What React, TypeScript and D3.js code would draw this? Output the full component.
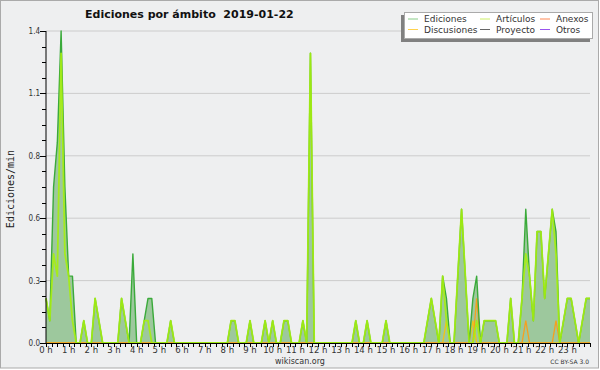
import React from "react";
import * as d3 from "d3";

// 10-minute bins, 00:00 .. 24:00 (145 points)
const ediciones = [
  0.2, 0.1, 0.7, 0.9, 1.4, 0.7,
  0.3, 0.3, 0, 0, 0.1, 0,
  0, 0.2, 0.1, 0, 0, 0,
  0, 0, 0.2, 0.1, 0, 0.4,
  0, 0, 0.1, 0.2, 0.2, 0,
  0, 0, 0, 0.1, 0, 0,
  0, 0, 0, 0, 0, 0,
  0, 0, 0, 0, 0, 0,
  0, 0.1, 0.1, 0, 0, 0,
  0.1, 0, 0, 0, 0.1, 0,
  0.1, 0, 0, 0.1, 0.1, 0,
  0, 0, 0.1, 0, 1.3, 0,
  0, 0, 0, 0, 0, 0,
  0, 0, 0, 0, 0.1, 0,
  0, 0.1, 0, 0, 0, 0,
  0.1, 0, 0, 0, 0, 0,
  0, 0, 0, 0, 0, 0.1,
  0.2, 0.1, 0, 0.3, 0.2, 0,
  0, 0.3, 0.6, 0.3, 0, 0.2,
  0.3, 0, 0.1, 0.1, 0.1, 0.1,
  0, 0, 0, 0.2, 0, 0,
  0.2, 0.6, 0.3, 0.1, 0.5, 0.5,
  0.2, 0.4, 0.6, 0.5, 0, 0.1,
  0.2, 0.2, 0.1, 0, 0.1, 0.2,
  0.2,
];

const articulos = [
  0.2, 0.1, 0.4, 0.3, 1.3, 0.4,
  0.3, 0.1, 0, 0, 0.1, 0,
  0, 0.2, 0.1, 0, 0, 0,
  0, 0, 0.2, 0.1, 0, 0,
  0, 0, 0.1, 0.1, 0, 0,
  0, 0, 0, 0.1, 0, 0,
  0, 0, 0, 0, 0, 0,
  0, 0, 0, 0, 0, 0,
  0, 0.1, 0.1, 0, 0, 0,
  0.1, 0, 0, 0, 0.1, 0,
  0.1, 0, 0, 0.1, 0.1, 0,
  0, 0, 0.1, 0, 1.3, 0,
  0, 0, 0, 0, 0, 0,
  0, 0, 0, 0, 0.1, 0,
  0, 0.1, 0, 0, 0, 0,
  0.1, 0, 0, 0, 0, 0,
  0, 0, 0, 0, 0, 0.1,
  0.2, 0.1, 0, 0.3, 0.1, 0,
  0, 0.3, 0.6, 0.3, 0, 0,
  0.1, 0, 0.1, 0.1, 0.1, 0.1,
  0, 0, 0, 0.2, 0, 0,
  0.2, 0.4, 0.3, 0.1, 0.5, 0.5,
  0.2, 0.4, 0.6, 0.4, 0, 0.1,
  0.2, 0.2, 0.1, 0, 0.1, 0.2,
  0.2,
];

const discusiones = [
  0, 0, 0, 0, 0, 0,  0, 0, 0, 0, 0, 0,  0, 0, 0, 0, 0, 0,  0, 0, 0, 0, 0, 0,
  0, 0, 0, 0, 0, 0,  0, 0, 0, 0, 0, 0,  0, 0, 0, 0, 0, 0,  0, 0, 0, 0, 0, 0,
  0, 0, 0, 0, 0, 0,  0, 0, 0, 0, 0, 0,  0, 0, 0, 0, 0, 0,  0, 0, 0, 0, 0, 0,
  0, 0, 0, 0, 0, 0,  0, 0, 0, 0, 0, 0,  0, 0, 0, 0, 0, 0,  0, 0, 0, 0, 0, 0,
  0, 0, 0, 0, 0, 0,  0, 0, 0, 0, 0.1, 0,  0, 0, 0, 0, 0, 0.1,  0, 0, 0, 0, 0, 0,
  0, 0, 0, 0, 0, 0,  0, 0, 0, 0, 0, 0,  0, 0, 0, 0, 0, 0,  0, 0, 0, 0, 0, 0,
  0,
];

const anexos = [
  0, 0, 0, 0, 0, 0,  0, 0, 0, 0, 0, 0,  0, 0, 0, 0, 0, 0,  0, 0, 0, 0, 0, 0,
  0, 0, 0, 0, 0, 0,  0, 0, 0, 0, 0, 0,  0, 0, 0, 0, 0, 0,  0, 0, 0, 0, 0, 0,
  0, 0, 0, 0, 0, 0,  0, 0, 0, 0, 0, 0,  0, 0, 0, 0, 0, 0,  0, 0, 0, 0, 0, 0,
  0, 0, 0, 0, 0, 0,  0, 0, 0, 0, 0, 0,  0, 0, 0, 0, 0, 0,  0, 0, 0, 0, 0, 0,
  0, 0, 0, 0, 0, 0,  0, 0, 0, 0, 0, 0,  0, 0, 0, 0, 0, 0,  0.2, 0, 0, 0, 0, 0,
  0, 0, 0, 0, 0, 0,  0, 0.1, 0, 0, 0, 0,  0, 0, 0, 0.1, 0, 0,  0, 0, 0, 0, 0, 0,
  0,
];

const xTickLabels = [
  "0 h", "1 h", "2 h", "3 h", "4 h", "5 h", "6 h", "7 h", "8 h", "9 h", "10 h", "11 h",
  "12 h", "13 h", "14 h", "15 h", "16 h", "17 h", "18 h", "19 h", "20 h", "21 h", "22 h", "23 h",
];
const yTickLabels = ["0.0", "0.3", "0.6", "0.8", "1.1", "1.4"];

const legendItems = [
  { name: "Ediciones", color: "#88cc88" },
  { name: "Discusiones", color: "#ffd24d" },
  { name: "Artículos", color: "#ccee66" },
  { name: "Proyecto", color: "#666666" },
  { name: "Anexos", color: "#ff8855" },
  { name: "Otros", color: "#9955ee" },
];

const W = 600;
const H = 370;
const L = 46, R = 590, T = 31, B = 343;
const YMAX = 1.4;

export default function App() {
  const times = d3.range(ediciones.length).map((i) => i * 10);
  const x = d3.scaleLinear().domain([0, 1440]).range([L, R]);
  const y = d3.scaleLinear().domain([0, YMAX]).range([B, T]);

  const area = d3
    .area<number>()
    .x((_, i) => x(times[i]))
    .y0(y(0))
    .y1((d) => y(d));
  const line = d3
    .line<number>()
    .x((_, i) => x(times[i]))
    .y((d) => y(d));

  const majorVals = yTickLabels.map((_, i) => (i * YMAX) / (yTickLabels.length - 1));
  const minorVals = d3.range(0, 21).map((i) => (i * YMAX) / 20);
  const xMinor = d3.range(0, 24 * 4 + 1).map((i) => i * 15);

  const legX = [408, 480, 540];
  const legY = [19, 29.5];

  return (
    <svg
      width={W}
      height={H}
      style={{ position: "absolute", left: 0, top: 0, display: "block" }}
      fontFamily="DejaVu Sans"
    >
      <rect x={0} y={0} width={W} height={H} fill="#ffffff" />
      <rect x={0.5} y={0.5} width={598} height={367.5} fill="#eeeff0" stroke="#aaaaaa" />

      {/* gridlines */}
      {majorVals.slice(1).map((v, i) => (
        <line key={"g" + i} x1={L} x2={R} y1={y(v)} y2={y(v)} stroke="#cccccc" strokeWidth={1} />
      ))}

      {/* areas */}
      <path d={area(ediciones) || ""} fill="#9dc89d" stroke="none" />
      <path d={area(articulos) || ""} fill="#9dc89d" stroke="none" />

      {/* lines */}
      <path d={line(discusiones) || ""} fill="none" stroke="#f0c419" strokeWidth={1.3} />
      <path d={line(anexos) || ""} fill="none" stroke="#f5a020" strokeWidth={1.3} />
      <path d={line(ediciones) || ""} fill="none" stroke="#3aaa3a" strokeWidth={1.4} strokeLinejoin="round" />
      <path d={line(articulos) || ""} fill="none" stroke="#a6ee10" strokeWidth={1.8} strokeLinejoin="round" strokeOpacity={0.9} />

      {/* y axis */}
      <line x1={L} x2={L} y1={T} y2={B} stroke="#000" strokeWidth={1} />
      {minorVals.map((v, i) => (
        <line key={"ym" + i} x1={L - 4} x2={L} y1={Math.round(y(v)) + 0.5} y2={Math.round(y(v)) + 0.5} stroke="#000" />
      ))}
      {majorVals.map((v, i) => (
        <g key={"yM" + i}>
          <line x1={L - 6} x2={L} y1={Math.round(y(v)) + 0.5} y2={Math.round(y(v)) + 0.5} stroke="#000" />
          <text
            x={L - 6}
            y={y(v) + 3}
            textAnchor="end"
            fontSize={8}
            fontFamily="DejaVu Sans Condensed, DejaVu Sans"
            fill="#333"
          >
            {yTickLabels[i]}
          </text>
        </g>
      ))}

      {/* x axis */}
      <line x1={L} x2={R} y1={B + 0.5} y2={B + 0.5} stroke="#000" strokeWidth={1.2} />
      {xMinor.map((t, i) => (
        <line key={"xm" + i} x1={Math.round(x(t)) + 0.5} x2={Math.round(x(t)) + 0.5} y1={B} y2={B + 4} stroke="#000" />
      ))}
      {xTickLabels.map((lab, i) => (
        <text key={"xl" + i} x={x(i * 60)} y={353} textAnchor="middle" fontSize={8.5} fill="#333">
          {lab}
        </text>
      ))}

      {/* y axis title */}
      <text
        transform={`translate(14,189) rotate(-90)`}
        textAnchor="middle"
        fontFamily="DejaVu Sans Mono"
        fontSize={10}
        fill="#222"
      >
        Ediciones/min
      </text>

      {/* title */}
      <text x={85} y={18} fontSize={11} fontWeight="bold" fill="#111" style={{ whiteSpace: "pre" }}>
        {"Ediciones por ámbito  2019-01-22"}
      </text>

      {/* footer */}
      <text x={300} y={364} textAnchor="middle" fontSize={8} fill="#333">
        wikiscan.org
      </text>
      <text x={589} y={364} textAnchor="end" fontSize={6} fill="#333">
        CC BY-SA 3.0
      </text>

      {/* legend */}
      <rect x={401} y={15} width={189} height={27} fill="#808080" />
      <rect x={404.5} y={12.5} width={188} height={26} fill="#ffffff" stroke="#aaaaaa" />
      {legendItems.map((it, i) => {
        const col = Math.floor(i / 2);
        const row = i % 2;
        const lx = legX[col];
        const ly = legY[row];
        return (
          <g key={"lg" + i}>
            <line x1={lx} x2={lx + 10} y1={ly} y2={ly} stroke={it.color} strokeWidth={1} />
            <text x={lx + 16} y={ly + 3} fontSize={9} fill="#333">
              {it.name}
            </text>
          </g>
        );
      })}
    </svg>
  );
}
